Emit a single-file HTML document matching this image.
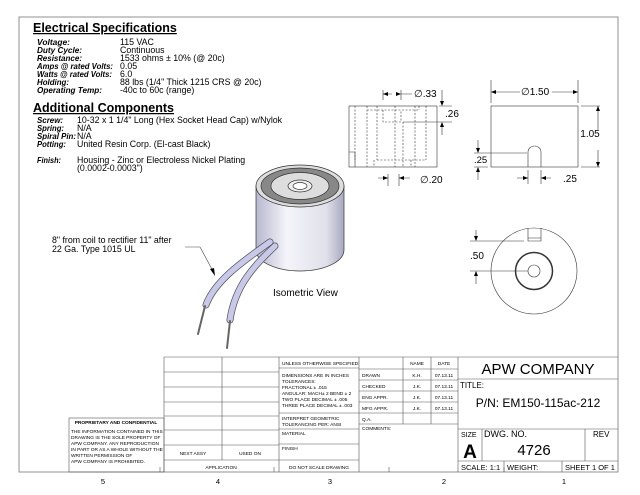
<!DOCTYPE html>
<html><head><style>
html,body{margin:0;padding:0;background:#fff;}
svg{display:block;}
text{font-family:"Liberation Sans",sans-serif;fill:#000;}
</style></head><body>
<svg width="640" height="495" viewBox="0 0 640 495" xmlns="http://www.w3.org/2000/svg">
<defs>
<linearGradient id="cyl" x1="0" x2="1" y1="0" y2="0">
<stop offset="0" stop-color="#b8b8d0"/><stop offset="0.35" stop-color="#f4f4fa"/><stop offset="0.8" stop-color="#e0e0ea"/><stop offset="1" stop-color="#a8a8c0"/>
</linearGradient>
</defs>
<rect x="19" y="17" width="599" height="455" fill="none" stroke="#777" stroke-width="0.8"/>
<!-- Specs -->
<text x="33" y="32" font-size="12.5" font-weight="bold" text-decoration="underline">Electrical Specifications</text>
<g font-size="8.5" font-weight="bold" font-style="italic" lengthAdjust="spacingAndGlyphs">
<text x="37" y="45" textLength="33" lengthAdjust="spacingAndGlyphs">Voltage:</text>
<text x="37" y="53" textLength="45" lengthAdjust="spacingAndGlyphs">Duty Cycle:</text>
<text x="37" y="61" textLength="45" lengthAdjust="spacingAndGlyphs">Resistance:</text>
<text x="37" y="69" textLength="76" lengthAdjust="spacingAndGlyphs">Amps @ rated Volts:</text>
<text x="37" y="77" textLength="75" lengthAdjust="spacingAndGlyphs">Watts @ rated Volts:</text>
<text x="37" y="85" textLength="32" lengthAdjust="spacingAndGlyphs">Holding:</text>
<text x="37" y="93" textLength="65" lengthAdjust="spacingAndGlyphs">Operating Temp:</text>
</g>
<g font-size="8.8">
<text x="120" y="45">115 VAC</text><text x="120" y="53">Continuous</text><text x="120" y="61">1533 ohms ± 10% (@ 20c)</text><text x="120" y="69">0.05</text><text x="120" y="77">6.0</text><text x="120" y="85">88 lbs (1/4" Thick 1215 CRS @ 20c)</text><text x="120" y="93">-40c to 60c (range)</text>
</g>
<text x="33" y="112" font-size="12.5" font-weight="bold" text-decoration="underline">Additional Components</text>
<g font-size="8.5" font-weight="bold" font-style="italic">
<text x="37" y="123" textLength="26" lengthAdjust="spacingAndGlyphs">Screw:</text>
<text x="37" y="131" textLength="27" lengthAdjust="spacingAndGlyphs">Spring:</text>
<text x="37" y="139" textLength="39" lengthAdjust="spacingAndGlyphs">Spiral Pin:</text>
<text x="37" y="147" textLength="29" lengthAdjust="spacingAndGlyphs">Potting:</text>
<text x="37" y="163" textLength="24" lengthAdjust="spacingAndGlyphs">Finish:</text>
</g>
<g font-size="8.8">
<text x="77" y="123">10-32 x 1 1/4" Long (Hex Socket Head Cap) w/Nylok</text><text x="77" y="131">N/A</text><text x="77" y="139">N/A</text><text x="77" y="147">United Resin Corp. (El-cast Black)</text><text x="77" y="163">Housing - Zinc or Electroless Nickel Plating</text><text x="77" y="171">(0.0002-0.0003")</text>
</g>
<!-- Isometric -->
<g stroke="#333" stroke-width="0.7">
<path d="M256,186 L256,250 A44,21 0 0 0 344,250 L344,186 Z" fill="url(#cyl)"/>
<ellipse cx="300" cy="186" rx="44" ry="21" fill="#ddd"/>
<ellipse cx="300" cy="186" rx="39" ry="18" fill="#888"/>
<ellipse cx="300" cy="186" rx="29" ry="13.5" fill="#ddd"/>
<ellipse cx="300" cy="186" rx="12" ry="6" fill="#eee"/>
<ellipse cx="300" cy="186" rx="7" ry="3.5" fill="#fff"/>
</g>
<g fill="none" stroke-linecap="round">
<path d="M270,242 C245,260 215,280 206,305" stroke="#555" stroke-width="7"/>
<path d="M270,242 C245,260 215,280 206,305" stroke="#c8c8ea" stroke-width="5.5"/>
<path d="M275,246 C255,265 235,285 230,320" stroke="#555" stroke-width="7"/>
<path d="M275,246 C255,265 235,285 230,320" stroke="#c8c8ea" stroke-width="5.5"/>
<path d="M205,306 L198,334" stroke="#666" stroke-width="2"/>
<path d="M230,321 L227,348" stroke="#666" stroke-width="2"/>
</g>
<text x="52" y="243" font-size="8.8">8" from coil to rectifier 11" after</text>
<text x="52" y="252" font-size="8.8">22 Ga. Type 1015 UL</text>
<path d="M185,247 L200,247 L214,273" fill="none" stroke="#444" stroke-width="0.6"/>
<path d="M210,269 L215,276 L214,268 Z" fill="#000"/>
<text x="273" y="296" font-size="10">Isometric View</text>
<!-- Left view -->
<g fill="none" stroke="#333" stroke-width="0.6">
<rect x="349" y="106" width="88" height="61"/>
<g stroke-dasharray="2,1.5">
<path d="M367,106 V167 M377,106 V160 M395,106 V167 M403,122 V167 M415,106 V167 M426,106 V160 M367,110 H419 M419,106 V110 M383,110 V122 H401 V110 M377,160 H426 M374,160 V167 M411,160 V167 M355,106 V160"/>
</g>
<path d="M349,152 H355 V167"/>
<path d="M383,90 V100 M401,90 V100 M383,94 H392 M401,94 H412"/>
<path d="M403,122 H452 M442,90 V103 M442,125 V135 M439,106 H452"/>
<path d="M388,174 V186 M399,174 V186 M378,178 H388 M399,178 H410"/>
<rect x="491" y="106" width="87" height="61"/>
<path d="M491,80 V103 M578,80 V103 M491,92 H520 M552,92 H578"/>
<path d="M581,106 H600 M581,167 H600 M598,106 V130 M598,150 V167"/>
<path d="M528,167 V152 A6.5,6 0 0 1 541,152 V167"/>
<path d="M474,153 H527 M474,167 H488 M478,140 V150 M478,170 V180"/>
<path d="M528,170 V184 M541,170 V184 M517,178 H528 M541,178 H551"/>
<circle cx="534" cy="271" r="43"/>
<circle cx="534" cy="271" r="18.5" stroke-width="1.5"/>
<circle cx="534" cy="271" r="6"/>
<path d="M528,228 V241 H541 V228 M528,238 H541"/>
<path d="M470,241 H524 M470,271 H528 M476,230 V238 M476,274 V284"/>
</g>
<g fill="#000">
<path d="M383,94 l5,-2 v4z M401,94 l-5,-2 v4z M442,106 l-2,-5 h4z M442,122 l-2,5 h4z M388,178 l-5,-2 v4z M399,178 l5,-2 v4z M491,92 l5,-2 v4z M578,92 l-5,-2 v4z M598,106 l-2,5 h4z M598,167 l-2,-5 h4z M478,153 l-2,-5 h4z M478,167 l-2,5 h4z M528,178 l-5,-2 v4z M541,178 l5,-2 v4z M476,241 l-2,-5 h4z M476,271 l-2,5 h4z"/>
</g>
<g font-size="10">
<text x="414" y="97">∅.33</text>
<text x="445" y="117">.26</text>
<text x="420" y="183">∅.20</text>
<text x="521" y="95">∅1.50</text>
<text x="590" y="137" text-anchor="middle">1.05</text>
<text x="474" y="163" font-size="9.5">.25</text>
<text x="563" y="182">.25</text>
<text x="470" y="259">.50</text>
</g>
<!-- Title block -->
<g fill="none" stroke="#555" stroke-width="0.6">
<rect x="69" y="418" width="95" height="54"/>
<path d="M164,357 H618 M164,357 V472 M222,357 V460 M279,357 V472 M359,357 V472 M458,357 V472"/>
<path d="M164,372 H279 M164,387 H279 M164,402 H279 M164,416 H279 M164,430 H279 M164,445 H279 M164,460 H279"/>
<path d="M279,368 H359 M279,413 H359 M279,429 H359 M279,444 H359 M279,460 H359"/>
<path d="M359,369 H458 M359,380 H458 M359,391 H458 M359,402 H458 M359,413 H458 M359,424 H458 M403,357 V424 M431,357 V424"/>
<path d="M458,379 H618 M458,429 H618 M458,461 H618 M482,429 V461 M585,429 V461 M504,461 V472 M562,461 V472"/>
<path d="M160,472 V467 M274,472 V467 M389,472 V467 M504,472 V467"/>
</g>
<g font-size="4.8">
<text x="116" y="424" text-anchor="middle" font-weight="bold">PROPRIETARY AND CONFIDENTIAL</text>
<text x="71" y="433">THE INFORMATION CONTAINED IN THIS</text>
<text x="71" y="439">DRAWING IS THE SOLE PROPERTY OF</text>
<text x="71" y="445">APW COMPANY.  ANY  REPRODUCTION</text>
<text x="71" y="451">IN PART OR AS A WHOLE WITHOUT THE</text>
<text x="71" y="457">WRITTEN PERMISSION OF</text>
<text x="71" y="463">APW COMPANY IS PROHIBITED.</text>
<text x="193" y="455" text-anchor="middle">NEXT ASSY</text>
<text x="250" y="455" text-anchor="middle">USED ON</text>
<text x="221" y="469" text-anchor="middle">APPLICATION</text>
<text x="282" y="365">UNLESS OTHERWISE SPECIFIED:</text>
<text x="282" y="377">DIMENSIONS ARE IN INCHES</text>
<text x="282" y="383">TOLERANCES:</text>
<text x="282" y="389">FRACTIONAL ± .015</text>
<text x="282" y="395">ANGULAR: MACH± 2    BEND ± 2</text>
<text x="282" y="401">TWO PLACE DECIMAL    ± .005</text>
<text x="282" y="407">THREE PLACE DECIMAL  ± .003</text>
<text x="282" y="420">INTERPRET GEOMETRIC</text>
<text x="282" y="426">TOLERANCING PER: ANSI</text>
<text x="282" y="435">MATERIAL</text>
<text x="282" y="450">FINISH</text>
<text x="319" y="469" text-anchor="middle">DO NOT SCALE DRAWING</text>
<text x="417" y="365" text-anchor="middle">NAME</text><text x="444" y="365" text-anchor="middle">DATE</text>
<text x="362" y="377">DRAWN</text><text x="417" y="377" text-anchor="middle">K.H.</text><text x="444" y="377" text-anchor="middle">07.13.11</text>
<text x="362" y="388">CHECKED</text><text x="417" y="388" text-anchor="middle">J.K.</text><text x="444" y="388" text-anchor="middle">07.13.11</text>
<text x="362" y="399">ENG APPR.</text><text x="417" y="399" text-anchor="middle">J.K.</text><text x="444" y="399" text-anchor="middle">07.13.11</text>
<text x="362" y="410">MFG APPR.</text><text x="417" y="410" text-anchor="middle">J.K.</text><text x="444" y="410" text-anchor="middle">07.13.11</text>
<text x="362" y="421">Q.A.</text>
<text x="362" y="430">COMMENTS:</text>
</g>
<text x="538" y="374" font-size="15" text-anchor="middle">APW COMPANY</text>
<text x="460" y="388" font-size="8">TITLE:</text>
<text x="538" y="407" font-size="12" text-anchor="middle">P/N: EM150-115ac-212</text>
<text x="461" y="437" font-size="7">SIZE</text>
<text x="470" y="458" font-size="19" font-weight="bold" text-anchor="middle">A</text>
<text x="484" y="437" font-size="9">DWG.  NO.</text>
<text x="534" y="455" font-size="15" text-anchor="middle">4726</text>
<text x="593" y="437" font-size="8">REV</text>
<text x="461" y="470" font-size="7.5">SCALE: 1:1</text>
<text x="507" y="470" font-size="7.5">WEIGHT:</text>
<text x="565" y="470" font-size="7.5">SHEET 1 OF 1</text>
<g font-size="7.5" text-anchor="middle">
<text x="103" y="484">5</text><text x="218" y="484">4</text><text x="330" y="484">3</text><text x="444" y="484">2</text><text x="564" y="484">1</text>
</g>
</svg>
</body></html>
